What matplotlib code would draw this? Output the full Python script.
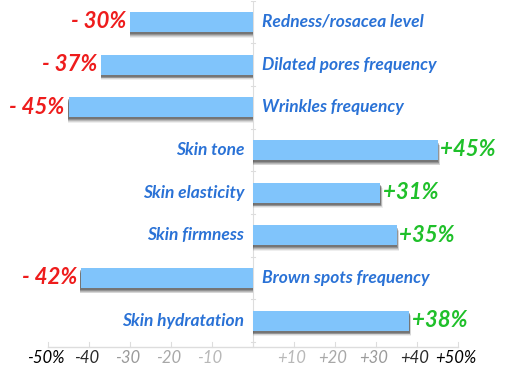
import matplotlib
matplotlib.use("Agg")
import matplotlib.pyplot as plt
import matplotlib.font_manager as fm

categories = ["Redness/rosacea level", "Dilated pores frequency", "Wrinkles frequency",
              "Skin tone", "Skin elasticity", "Skin firmness",
              "Brown spots frequency", "Skin hydratation"]
values = [-30, -37, -45, 45, 31, 35, -42, 38]
value_labels = ["- 30%", "- 37%", "- 45%", "+45%", "+31%", "+35%", "- 42%", "+38%"]
tick_values = [-50, -40, -30, -20, -10, 10, 20, 30, 40, 50]
tick_labels = ["-50%", "-40", "-30", "-20", "-10", "+10", "+20", "+30", "+40", "+50%"]
tick_colors = ["#000000", "#2a2a2a", "#9a9a9a", "#a8a8a8", "#b8b8b8",
               "#b8b8b8", "#a8a8a8", "#9a9a9a", "#2a2a2a", "#000000"]

fams = [f.name for f in fm.fontManager.ttflist]
FONT = "Lato" if "Lato" in fams else "DejaVu Sans"
plt.rcParams['font.family'] = [FONT, 'DejaVu Sans']

W, H = 505, 386
fig = plt.figure(figsize=(W/100, H/100), dpi=100)
ax = fig.add_axes([48/W, 1-347/H, 410/W, 346.4/H])
ax.set_xlim(-50, 50)
ax.set_ylim(7.62, -0.5)
ax.axis('off')

ys = list(range(len(categories)))
bh = 0.47
# soft shadow layers
for dy, a, ext in [(0.13, 0.08, 0.6), (0.11, 0.12, 0.5), (0.09, 0.18, 0.4),
                   (0.07, 0.25, 0.3), (0.05, 0.3, 0.2)]:
    sv = [v + (ext if v > 0 else -0.1) for v in values]
    ax.barh([y + dy for y in ys], sv, height=bh, color="#2e2e2e", alpha=a, zorder=2,
            linewidth=0)
ax.barh(ys, values, height=bh, color="#80c4fb", zorder=3, linewidth=0)

# zero line with small ticks
ax.plot([0, 0], [-0.5, 7.62], color="#dddddd", lw=0.8, zorder=1)
for b in [i + 0.5 for i in range(-1, 8)]:
    ax.plot([-0.6, 0.6], [b, b], color="#dddddd", lw=0.8, zorder=1)

# bottom axis
ax.plot([-50, 50], [7.62, 7.62], color="#dddddd", lw=1.0, clip_on=False)
for t in [-50, -40, -30, -20, -10, 0, 10, 20, 30, 40, 50]:
    ax.plot([t, t], [7.62, 7.50], color="#dddddd", lw=0.8, clip_on=False)
for t, lab, c in zip(tick_values, tick_labels, tick_colors):
    ax.text(t - 0.6, 7.62 + 0.25, lab, ha='center', va='center', fontsize=12,
            style='italic', color=c)

for y, v, cat, vl in zip(ys, values, categories, value_labels):
    if v < 0:
        ax.text(2.1, y, cat, ha='left', va='center', fontsize=12.5, fontweight='bold',
                style='italic', color="#2a72d6")
        ax.text(v - 0.9, y, vl, ha='right', va='center', fontsize=16, fontweight='bold',
                style='italic', color="#ee1c1c")
    else:
        ax.text(-2.1, y, cat, ha='right', va='center', fontsize=12.5, fontweight='bold',
                style='italic', color="#2a72d6")
        ax.text(v + 0.7, y, vl, ha='left', va='center', fontsize=16, fontweight='bold',
                style='italic', color="#1fc02a")

fig.savefig("out.png", dpi=100)
